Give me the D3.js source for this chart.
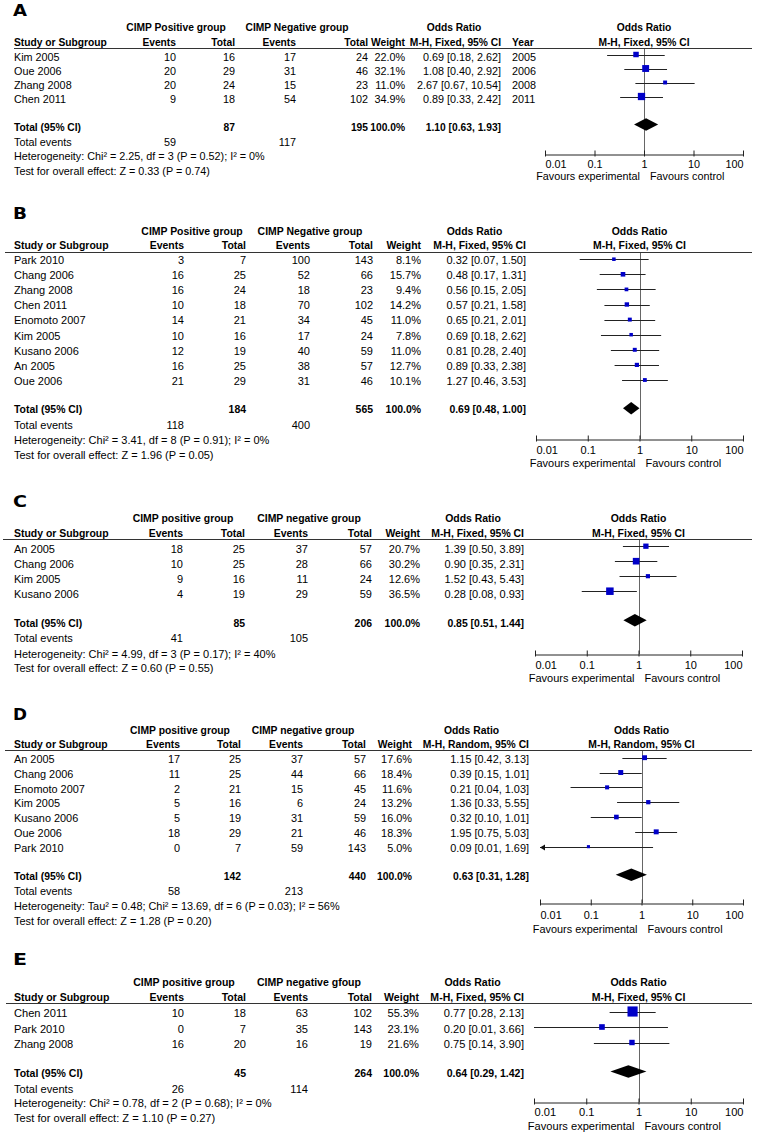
<!DOCTYPE html>
<html>
<head>
<meta charset="utf-8">
<script src="https://cdn.jsdelivr.net/npm/d3@7"></script>
<style>
  body { margin: 0; background: #fff; }
  svg { display: block; font-family: "Liberation Sans", Arial, sans-serif; }
</style>
</head>
<body>
<div id="chart"></div>
<script>
// ---- panel A
var aStudies = ["Kim 2005", "Oue 2006", "Zhang 2008", "Chen 2011"];
var aPosEvents = [10, 20, 20, 9];
var aPosTotal = [16, 29, 24, 18];
var aNegEvents = [17, 31, 15, 54];
var aNegTotal = [24, 46, 23, 102];
var aWeight = [22.0, 32.1, 11.0, 34.9];
var aOR = [0.69, 1.08, 2.67, 0.89];
var aLow = [0.18, 0.40, 0.67, 0.33];
var aHigh = [2.62, 2.92, 10.54, 2.42];
var aYear = [2005, 2006, 2008, 2011];
var aTotals = [87, 195];
var aTotalEvents = [59, 117];
var aPooled = [1.10, 0.63, 1.93];
var aGroups = ["CIMP Positive group", "CIMP Negative group"];
var aHet = "Heterogeneity: Chi\u00b2 = 2.25, df = 3 (P = 0.52); I\u00b2 = 0%";
var aTest = "Test for overall effect: Z = 0.33 (P = 0.74)";

// ---- panel B
var bStudies = ["Park 2010", "Chang 2006", "Zhang 2008", "Chen 2011", "Enomoto 2007", "Kim 2005", "Kusano 2006", "An 2005", "Oue 2006"];
var bPosEvents = [3, 16, 16, 10, 14, 10, 12, 16, 21];
var bPosTotal = [7, 25, 24, 18, 21, 16, 19, 25, 29];
var bNegEvents = [100, 52, 18, 70, 34, 17, 40, 38, 31];
var bNegTotal = [143, 66, 23, 102, 45, 24, 59, 57, 46];
var bWeight = [8.1, 15.7, 9.4, 14.2, 11.0, 7.8, 11.0, 12.7, 10.1];
var bOR = [0.32, 0.48, 0.56, 0.57, 0.65, 0.69, 0.81, 0.89, 1.27];
var bLow = [0.07, 0.17, 0.15, 0.21, 0.21, 0.18, 0.28, 0.33, 0.46];
var bHigh = [1.50, 1.31, 2.05, 1.58, 2.01, 2.62, 2.40, 2.38, 3.53];
var bTotals = [184, 565];
var bTotalEvents = [118, 400];
var bPooled = [0.69, 0.48, 1.00];
var bGroups = ["CIMP Positive group", "CIMP Negative group"];
var bHet = "Heterogeneity: Chi\u00b2 = 3.41, df = 8 (P = 0.91); I\u00b2 = 0%";
var bTest = "Test for overall effect: Z = 1.96 (P = 0.05)";

// ---- panel C
var cStudies = ["An 2005", "Chang 2006", "Kim 2005", "Kusano 2006"];
var cPosEvents = [18, 10, 9, 4];
var cPosTotal = [25, 25, 16, 19];
var cNegEvents = [37, 28, 11, 29];
var cNegTotal = [57, 66, 24, 59];
var cWeight = [20.7, 30.2, 12.6, 36.5];
var cOR = [1.39, 0.90, 1.52, 0.28];
var cLow = [0.50, 0.35, 0.43, 0.08];
var cHigh = [3.89, 2.31, 5.43, 0.93];
var cTotals = [85, 206];
var cTotalEvents = [41, 105];
var cPooled = [0.85, 0.51, 1.44];
var cGroups = ["CIMP positive group", "CIMP negative group"];
var cHet = "Heterogeneity: Chi\u00b2 = 4.99, df = 3 (P = 0.17); I\u00b2 = 40%";
var cTest = "Test for overall effect: Z = 0.60 (P = 0.55)";

// ---- panel D
var dStudies = ["An 2005", "Chang 2006", "Enomoto 2007", "Kim 2005", "Kusano 2006", "Oue 2006", "Park 2010"];
var dPosEvents = [17, 11, 2, 5, 5, 18, 0];
var dPosTotal = [25, 25, 21, 16, 19, 29, 7];
var dNegEvents = [37, 44, 15, 6, 31, 21, 59];
var dNegTotal = [57, 66, 45, 24, 59, 46, 143];
var dWeight = [17.6, 18.4, 11.6, 13.2, 16.0, 18.3, 5.0];
var dOR = [1.15, 0.39, 0.21, 1.36, 0.32, 1.95, 0.09];
var dLow = [0.42, 0.15, 0.04, 0.33, 0.10, 0.75, 0.01];
var dHigh = [3.13, 1.01, 1.03, 5.55, 1.01, 5.03, 1.69];
var dTotals = [142, 440];
var dTotalEvents = [58, 213];
var dPooled = [0.63, 0.31, 1.28];
var dGroups = ["CIMP positive group", "CIMP negative group"];
var dHet = "Heterogeneity: Tau\u00b2 = 0.48; Chi\u00b2 = 13.69, df = 6 (P = 0.03); I\u00b2 = 56%";
var dTest = "Test for overall effect: Z = 1.28 (P = 0.20)";

// ---- panel E
var eStudies = ["Chen 2011", "Park 2010", "Zhang 2008"];
var ePosEvents = [10, 0, 16];
var ePosTotal = [18, 7, 20];
var eNegEvents = [63, 35, 16];
var eNegTotal = [102, 143, 19];
var eWeight = [55.3, 23.1, 21.6];
var eOR = [0.77, 0.20, 0.75];
var eLow = [0.28, 0.01, 0.14];
var eHigh = [2.13, 3.66, 3.90];
var eTotals = [45, 264];
var eTotalEvents = [26, 114];
var ePooled = [0.64, 0.29, 1.42];
var eGroups = ["CIMP positive group", "CIMP negative gfoup"];
var eHet = "Heterogeneity: Chi\u00b2 = 0.78, df = 2 (P = 0.68); I\u00b2 = 0%";
var eTest = "Test for overall effect: Z = 1.10 (P = 0.27)";

var axisTicks = [0.01, 0.1, 1, 10, 100];

var svg = d3.select("#chart")
  .append("svg")
  .attr("width", 757)
  .attr("height", 1136);

svg.append("rect").attr("width", 757).attr("height", 1136).attr("fill", "#fff");

function panel(letter, method, studies, pe, pt, ne, nt, w, or, lo, hi, totals, tev, pooled, groups, het, test, years, lay) {
  var rows = studies.map(function(s, i) {
    return { study: s, pe: pe[i], pt: pt[i], ne: ne[i], nt: nt[i], w: w[i], or: or[i], lo: lo[i], hi: hi[i], year: years ? years[i] : null };
  });
  return { letter: letter, method: method, rows: rows, totals: totals, tev: tev, pooled: pooled,
    groups: groups, het: het, test: test, hasYear: !!years, lay: lay };
}

var panels = [
  panel("A", "M-H, Fixed, 95% CI", aStudies, aPosEvents, aPosTotal, aNegEvents, aNegTotal, aWeight, aOR, aLow, aHigh,
    aTotals, aTotalEvents, aPooled, aGroups, aHet, aTest, aYear,
    {letterY: 16, h1: 31, h2: 46, lineY: 48, lineX0: 14, ev1: 176, tot1: 235, ev2: 296, tot2: 368, g1: 176, g2: 297,
     wt: 405, or: 501, yr: 512, row0: 61, step: 14, totY: 131, evY: 146, hetY: 160, testY: 175,
     px0: 545, px1: 743, axisY: 154, tickY: 167, favY: 180, fs: 10.8, markOff: 6.5, arrows: []}),
  panel("B", "M-H, Fixed, 95% CI", bStudies, bPosEvents, bPosTotal, bNegEvents, bNegTotal, bWeight, bOR, bLow, bHigh,
    bTotals, bTotalEvents, bPooled, bGroups, bHet, bTest, null,
    {letterY: 219, h1: 235, h2: 249, lineY: 252, lineX0: 5, ev1: 184, tot1: 246, ev2: 310, tot2: 373, g1: 192, g2: 310,
     wt: 421, or: 526, row0: 264, step: 15.1, totY: 413, evY: 429, hetY: 444, testY: 459,
     px0: 536, px1: 743, axisY: 439, tickY: 453, favY: 467, fs: 11, markOff: 4.8, arrows: []}),
  panel("C", "M-H, Fixed, 95% CI", cStudies, cPosEvents, cPosTotal, cNegEvents, cNegTotal, cWeight, cOR, cLow, cHigh,
    cTotals, cTotalEvents, cPooled, cGroups, cHet, cTest, null,
    {letterY: 507, h1: 522, h2: 537, lineY: 539, lineX0: 3, ev1: 183, tot1: 245, ev2: 308, tot2: 372, g1: 183, g2: 309,
     wt: 420, or: 524, row0: 553, step: 15, totY: 627, evY: 642, hetY: 658, testY: 672,
     px0: 535, px1: 742, axisY: 654, tickY: 668, favY: 682, fs: 11, markOff: 6.8, arrows: []}),
  panel("D", "M-H, Random, 95% CI", dStudies, dPosEvents, dPosTotal, dNegEvents, dNegTotal, dWeight, dOR, dLow, dHigh,
    dTotals, dTotalEvents, dPooled, dGroups, dHet, dTest, null,
    {letterY: 720, h1: 734, h2: 748, lineY: 750, lineX0: 5, ev1: 180, tot1: 241, ev2: 303, tot2: 366, g1: 180, g2: 303,
     wt: 412, or: 529, row0: 763, step: 14.83, totY: 880, evY: 895, hetY: 910, testY: 925,
     px0: 540, px1: 743, axisY: 903, tickY: 918, favY: 933, fs: 10.9, markOff: 5.3, arrows: ["Park 2010"]}),
  panel("E", "M-H, Fixed, 95% CI", eStudies, ePosEvents, ePosTotal, eNegEvents, eNegTotal, eWeight, eOR, eLow, eHigh,
    eTotals, eTotalEvents, ePooled, eGroups, eHet, eTest, null,
    {letterY: 965, h1: 986, h2: 1001, lineY: 1003, lineX0: 6, ev1: 184, tot1: 246, ev2: 308, tot2: 372, g1: 184, g2: 309,
     wt: 419, or: 524, row0: 1017, step: 15.5, totY: 1077, evY: 1093, hetY: 1107, testY: 1122,
     px0: 534, px1: 743, axisY: 1102, tickY: 1115, favY: 1130, fs: 11.1, markOff: 5.5, arrows: []})
];

// square side grows with study weight
var boxSize = d3.scaleLinear().domain([0, 60]).range([2.4, 10.8]);

var curFs = 11;

function txt(g, s, x, y, anchor, bold) {
  return g.append("text")
    .text(s)
    .attr("x", x)
    .attr("y", y)
    .attr("text-anchor", anchor || "start")
    .attr("font-weight", bold ? "bold" : null)
    .attr("font-size", bold ? curFs * 0.95 : null)  // the bold face is set a touch narrower
    .attr("fill", "#000");
}

function ciText(v) {
  return v[0].toFixed(2) + " [" + v[1].toFixed(2) + ", " + v[2].toFixed(2) + "]";
}

function drawPanel(p) {
  var L = p.lay;
  curFs = L.fs;
  var g = svg.append("g").attr("font-size", L.fs);
  var x = d3.scaleLog().domain([0.01, 100]).range([L.px0, L.px1]);
  var mid = x(1);

  txt(g, p.letter, 13, L.letterY, "start", true)
    .attr("font-size", 15)
    .attr("font-family", "DejaVu Sans")
    .attr("textLength", 14)
    .attr("lengthAdjust", "spacingAndGlyphs");

  // header rows
  txt(g, p.groups[0], L.g1, L.h1, "middle", true);
  txt(g, p.groups[1], L.g2, L.h1, "middle", true);
  txt(g, "Odds Ratio", (L.or + L.wt) / 2 + 1, L.h1, "middle", true);
  txt(g, "Odds Ratio", mid, L.h1, "middle", true);
  txt(g, "Study or Subgroup", 14, L.h2, "start", true);
  txt(g, "Events", L.ev1, L.h2, "end", true);
  txt(g, "Total", L.tot1, L.h2, "end", true);
  txt(g, "Events", L.ev2, L.h2, "end", true);
  txt(g, "Total", L.tot2, L.h2, "end", true);
  txt(g, "Weight", L.wt, L.h2, "end", true);
  txt(g, p.method, L.or, L.h2, "end", true);
  if (p.hasYear) txt(g, "Year", L.yr, L.h2, "start", true);
  txt(g, p.method, mid, L.h2, "middle", true);

  g.append("line")
    .attr("x1", L.lineX0).attr("x2", 752)
    .attr("y1", L.lineY + 0.5).attr("y2", L.lineY + 0.5)
    .attr("stroke", "#333").attr("stroke-width", 1);

  // study rows
  var rowY = function(i) { return L.row0 + i * L.step; };
  p.rows.forEach(function(d, i) {
    var y = rowY(i);
    txt(g, d.study, 14, y);
    txt(g, d.pe, L.ev1, y, "end");
    txt(g, d.pt, L.tot1, y, "end");
    txt(g, d.ne, L.ev2, y, "end");
    txt(g, d.nt, L.tot2, y, "end");
    txt(g, d.w.toFixed(1) + "%", L.wt, y, "end");
    txt(g, ciText([d.or, d.lo, d.hi]), L.or, y, "end");
    if (p.hasYear) txt(g, d.year, L.yr, y, "start");
  });

  // totals
  txt(g, "Total (95% CI)", 14, L.totY, "start", true);
  txt(g, p.totals[0], L.tot1, L.totY, "end", true);
  txt(g, p.totals[1], L.tot2, L.totY, "end", true);
  txt(g, "100.0%", L.wt, L.totY, "end", true);
  txt(g, ciText(p.pooled), L.or, L.totY, "end", true);
  txt(g, "Total events", 14, L.evY);
  txt(g, p.tev[0], L.ev1, L.evY, "end");
  txt(g, p.tev[1], L.ev2, L.evY, "end");
  txt(g, p.het, 14, L.hetY);
  txt(g, p.test, 14, L.testY);

  // line of no effect
  g.append("line")
    .attr("x1", Math.round(mid) + 0.5).attr("x2", Math.round(mid) + 0.5)
    .attr("y1", L.lineY + 1).attr("y2", L.axisY)
    .attr("stroke", "#666").attr("stroke-width", 1);

  // confidence intervals and squares
  var marks = g.append("g");
  marks.selectAll("line.ci")
    .data(p.rows)
    .enter()
    .append("line")
    .attr("class", "ci")
    .attr("x1", function(d) { return Math.max(x(d.lo), L.px0); })
    .attr("x2", function(d) { return Math.min(x(d.hi), L.px1); })
    .attr("y1", function(d, i) { return Math.round(rowY(i) - L.markOff) + 0.5; })
    .attr("y2", function(d, i) { return Math.round(rowY(i) - L.markOff) + 0.5; })
    .attr("stroke", "#222")
    .attr("stroke-width", 1);

  marks.selectAll("rect.box")
    .data(p.rows)
    .enter()
    .append("rect")
    .attr("class", "box")
    .attr("x", function(d) { return x(d.or) - boxSize(d.w) / 2; })
    .attr("y", function(d, i) { return rowY(i) - L.markOff - boxSize(d.w) / 2; })
    .attr("width", function(d) { return boxSize(d.w); })
    .attr("height", function(d) { return boxSize(d.w); })
    .attr("fill", "#0000c8");

  marks.selectAll("path.arrow")
    .data(p.rows.filter(function(d) { return L.arrows.indexOf(d.study) >= 0; }))
    .enter()
    .append("path")
    .attr("class", "arrow")
    .attr("d", function(d) {
      var i = p.rows.indexOf(d);
      var y = Math.round(rowY(i) - L.markOff) + 0.5;
      return "M" + L.px0 + "," + y + "l5,-3l0,6z";
    })
    .attr("fill", "#111");

  // pooled diamond
  var dy = L.totY - L.markOff;
  g.append("path")
    .attr("d", "M" + x(p.pooled[1]) + "," + dy +
      "L" + x(p.pooled[0]) + "," + (dy - 6.3) +
      "L" + x(p.pooled[2]) + "," + dy +
      "L" + x(p.pooled[0]) + "," + (dy + 6.3) + "Z")
    .attr("fill", "#000");

  // axis: ticks up, labels below
  var axis = d3.axisBottom(x)
    .tickValues(axisTicks)
    .tickFormat(function(d) { return String(d); })
    .tickSizeInner(-4)
    .tickSizeOuter(0)
    .tickPadding(0);

  var ax = g.append("g")
    .attr("transform", "translate(0," + (L.axisY + 0.5) + ")")
    .call(axis);
  ax.attr("font-size", L.fs).attr("font-family", null);
  ax.select(".domain").attr("stroke", "#222");
  ax.selectAll(".tick line").attr("stroke", "#222").attr("y1", 2);
  ax.selectAll(".tick text")
    .attr("fill", "#000")
    .attr("dy", null)
    .attr("y", L.tickY - L.axisY)
    .attr("text-anchor", function(d, i) { return i === 0 ? "start" : (i === axisTicks.length - 1 ? "end" : "middle"); });

  txt(g, "Favours experimental", mid - 4, L.favY, "end");
  txt(g, "Favours control", mid + 6, L.favY, "start");
}

panels.forEach(drawPanel);
</script>
</body>
</html>
